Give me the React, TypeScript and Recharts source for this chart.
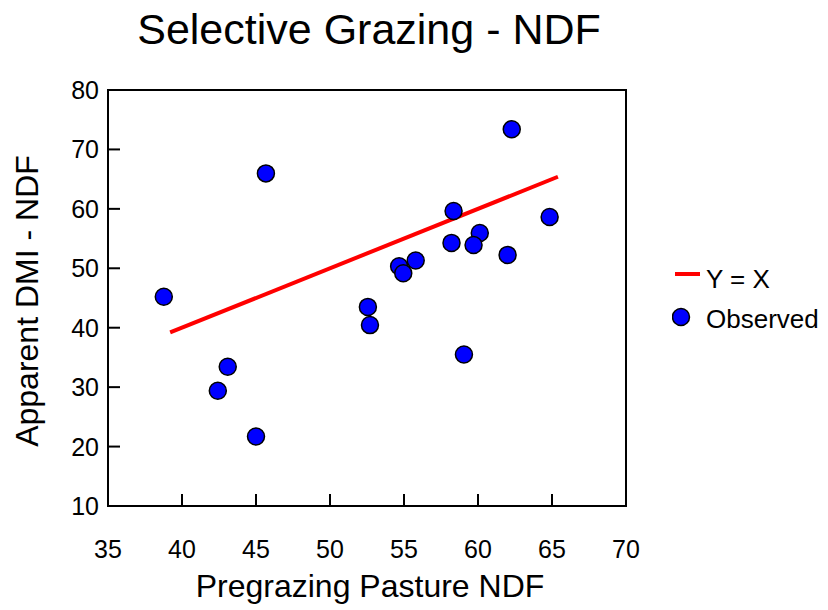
import React from 'react';
import { ScatterChart, Scatter, XAxis, YAxis, Legend, ReferenceLine } from 'recharts';

const xTicks = [35, 40, 45, 50, 55, 60, 65, 70];
const yTicks = [10, 20, 30, 40, 50, 60, 70, 80];

const observedX = [38.77, 45.67, 43.09, 42.42, 45.0, 52.56, 52.7, 54.67, 54.95, 55.79, 58.35, 58.21, 60.12, 59.7, 59.05, 62.0, 62.28, 64.84];
const observedY = [45.2, 65.97, 33.44, 29.4, 21.7, 43.5, 40.44, 50.35, 49.17, 51.3, 59.64, 54.27, 55.95, 53.93, 35.5, 52.25, 73.4, 58.63];

const lineX = [39.2, 65.4];
const lineY = [39.2, 65.4];

const observedData = observedX.map((x, i) => ({ x, y: observedY[i] }));
const lineData = lineX.map((x, i) => ({ x, y: lineY[i] }));

const FONT = '"Liberation Sans", Arial, sans-serif';
const AXIS_LINE = { stroke: '#000', strokeWidth: 2, strokeLinecap: 'square' as const };
const TICK_LEN = 12;
const PLOT_W = 518;
const PLOT_H = 416;
const X_MIN = xTicks[0];
const X_MAX = xTicks[xTicks.length - 1];
const Y_MIN = yTicks[0];
const Y_MAX = yTicks[yTicks.length - 1];
const tickLenX = ((X_MAX - X_MIN) * TICK_LEN) / PLOT_W;
const tickLenY = ((Y_MAX - Y_MIN) * TICK_LEN) / PLOT_H;
const innerXTicks = xTicks.slice(1, -1);
const innerYTicks = yTicks.slice(1, -1);

const XTick = (props: any) => {
  const x = Number(props.x);
  const y = Number(props.y);
  return (
    <text x={x} y={y + TICK_LEN + 52} textAnchor="middle" fontFamily={FONT} fontSize={25} fill="#000">{props.payload.value}</text>
  );
};

const YTick = (props: any) => {
  const x = Number(props.x);
  const y = Number(props.y);
  return (
    <text x={x - TICK_LEN - 9} y={y + 9} textAnchor="end" fontFamily={FONT} fontSize={25} fill="#000">{props.payload.value}</text>
  );
};

const LegendContent = () => (
  <div style={{ fontFamily: FONT, fontSize: 26, color: '#000', lineHeight: 1 }}>
    <div style={{ display: 'flex', alignItems: 'center', height: 40 }}>
      <svg width={34} height={40}>
        <line x1={3} y1={15} x2={28} y2={15} stroke="#FF0000" strokeWidth={4} />
      </svg>
      <span>Y = X</span>
    </div>
    <div style={{ display: 'flex', alignItems: 'center', height: 40 }}>
      <svg width={34} height={40}>
        <circle cx={9} cy={18} r={8.5} fill="#0000FF" stroke="#000" strokeWidth={1.5} />
      </svg>
      <span>Observed</span>
    </div>
  </div>
);

export default function App() {
  return (
    <div style={{ position: 'absolute', left: 0, top: 0, width: 828, height: 610, background: '#fff' }}>
      <ScatterChart width={828} height={610} margin={{ top: 89, right: 201, bottom: 103, left: 107 }}>
        <text x={369} y={44} textAnchor="middle" fontFamily={FONT} fontSize={43} fill="#000">Selective Grazing - NDF</text>
        <text x={370} y={597} textAnchor="middle" fontFamily={FONT} fontSize={32} fill="#000">Pregrazing Pasture NDF</text>
        <text x={0} y={0} transform="translate(38,301) rotate(-90)" textAnchor="middle" fontFamily={FONT} fontSize={32} fill="#000">Apparent DMI - NDF</text>
        <XAxis xAxisId={0} type="number" dataKey="x" domain={[X_MIN, X_MAX]} ticks={xTicks} height={1} tickSize={-TICK_LEN} tickMargin={0} axisLine={AXIS_LINE} tickLine={false} tick={(p: any) => <XTick {...p} />} interval={0} allowDataOverflow />
        <XAxis xAxisId="top" orientation="top" type="number" domain={[X_MIN, X_MAX]} ticks={xTicks} height={1} tick={false} tickLine={false} axisLine={AXIS_LINE} allowDataOverflow />
        <YAxis yAxisId={0} type="number" dataKey="y" domain={[Y_MIN, Y_MAX]} ticks={yTicks} width={1} tickSize={-TICK_LEN} tickMargin={0} axisLine={AXIS_LINE} tickLine={false} tick={(p: any) => <YTick {...p} />} interval={0} allowDataOverflow />
        <YAxis yAxisId="right" orientation="right" type="number" domain={[Y_MIN, Y_MAX]} ticks={yTicks} width={1} tick={false} tickLine={false} axisLine={AXIS_LINE} allowDataOverflow />
        {innerXTicks.map((v) => (
          <ReferenceLine key={`xt${v}`} xAxisId={0} yAxisId={0} segment={[{ x: v, y: Y_MIN }, { x: v, y: Y_MIN + tickLenY }]} stroke="#000" strokeWidth={2} ifOverflow="visible" />
        ))}
        {innerYTicks.map((v) => (
          <ReferenceLine key={`yt${v}`} xAxisId={0} yAxisId={0} segment={[{ x: X_MIN, y: v }, { x: X_MIN + tickLenX, y: v }]} stroke="#000" strokeWidth={2} ifOverflow="visible" />
        ))}
        <Scatter xAxisId={0} yAxisId={0} name="Y = X" data={lineData} line={{ stroke: '#FF0000', strokeWidth: 4 }} lineType="joint" shape={() => <g />} legendType="line" isAnimationActive={false} />
        <Scatter xAxisId={0} yAxisId={0} name="Observed" data={observedData} shape={(p: any) => <circle cx={p.cx} cy={p.cy} r={8.5} fill="#0000FF" stroke="#000" strokeWidth={1.5} />} legendType="circle" isAnimationActive={false} />
        <Legend layout="vertical" align="center" verticalAlign="middle" content={<LegendContent />} wrapperStyle={{ position: 'absolute', left: 672, top: 259, width: 156 }} />
      </ScatterChart>
    </div>
  );
}
